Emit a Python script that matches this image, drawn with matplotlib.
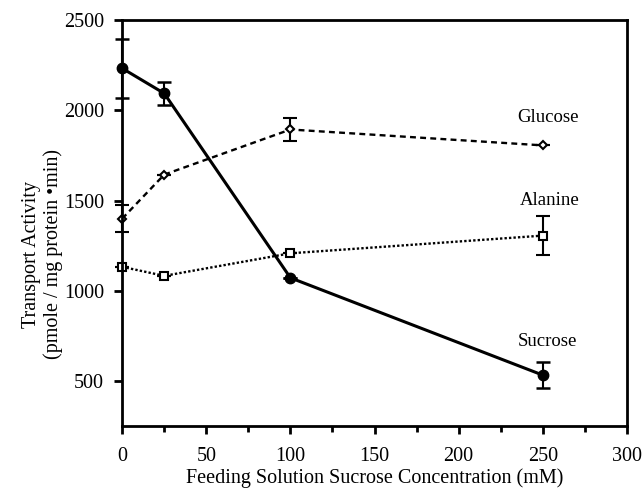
import numpy as np
import matplotlib.pyplot as plt
from matplotlib.ticker import MultipleLocator

plt.rcParams['font.family'] = ['Liberation Serif', 'DejaVu Serif']

# Feeding solution sucrose concentration (mM)
conc = [0, 25, 100, 250]

sucrose = [2233, 2094, 1072, 533]
sucrose_err = [165, 65, 0, 70]

glucose = [1400, 1644, 1894, 1806]
glucose_err = [75, 0, 65, 0]

alanine = [1133, 1083, 1208, 1306]
alanine_err = [0, 0, 0, 110]

fig = plt.figure(figsize=(6.43, 4.91), dpi=100)
ax = fig.add_axes([0.19, 0.132, 0.785, 0.827])

ebkw = dict(capsize=5, capthick=1.8, elinewidth=1.5, ecolor='black')

for kw in [
    dict(y=sucrose, yerr=sucrose_err, lw=2.2, ls='-', marker='o', ms=7.5,
         mfc='black'),
    dict(y=glucose, yerr=glucose_err, lw=1.7, ls=(0, (2.5, 1.8)), marker='D',
         ms=4.5, mfc='white', mew=1.5),
    dict(y=alanine, yerr=alanine_err, lw=1.7, ls=(0, (1, 0.9)), marker='s',
         ms=6, mfc='white', mew=1.5),
]:
    y = kw.pop('y')
    yerr = kw.pop('yerr')
    art = ax.errorbar(conc, y, yerr=yerr, color='black', mec='black', **kw, **ebkw)
    parts = [art.lines[0]] + list(art.lines[1]) + list(art.lines[2])
    for a in parts:
        a.set_clip_on(False)

ax.text(253, 1961, 'Glucose', ha='center', va='center', fontsize=13.5)
ax.text(254, 1500, 'Alanine', ha='center', va='center', fontsize=13.5)
ax.text(253, 722, 'Sucrose', ha='center', va='center', fontsize=13.5)

ax.set_xlim(0, 300)
ax.set_ylim(250, 2500)
ax.xaxis.set_major_locator(MultipleLocator(50))
ax.xaxis.set_minor_locator(MultipleLocator(25))
ax.set_yticks([500, 1000, 1500, 2000, 2500])

for s in ax.spines.values():
    s.set_linewidth(2)
ax.tick_params(axis='both', which='major', direction='out', length=6, width=2,
               labelsize=14.5, pad=7)
ax.tick_params(axis='x', which='major', pad=9)
ax.tick_params(axis='x', which='minor', direction='out', length=4, width=2)

ax.set_xlabel('Feeding Solution Sucrose Concentration (mM)', fontsize=14.5)
ax.xaxis.set_label_coords(0.5, -0.103)
ax.set_ylabel('Transport Activity\n(pmole / mg protein \u2022min)', fontsize=14.5,
              linespacing=1.1)
ax.yaxis.set_label_coords(-0.118, 0.424)

plt.savefig('out.png', dpi=100)
